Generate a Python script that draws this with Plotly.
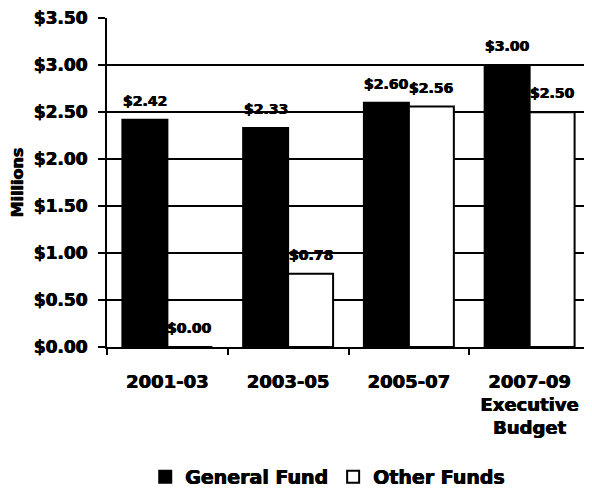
import plotly.graph_objects as go

categories = ["2001-03", "2003-05", "2005-07", "2007-09<br>Executive<br>Budget"]
general_fund = [2.42, 2.33, 2.60, 3.00]
other_funds = [0.00, 0.78, 2.56, 2.50]
y_ticks = [0, 0.5, 1.0, 1.5, 2.0, 2.5, 3.0, 3.5]
y_tick_labels = ["$0.00", "$0.50", "$1.00", "$1.50", "$2.00", "$2.50", "$3.00", "$3.50"]

FONT = "DejaVu Sans"
HEAVY = "0.4px 0 0 black, -0.4px 0 0 black"
BAR_GAP = 0.255
CAT_PX = 483 / len(categories)
OFFSET = CAT_PX * (1 - BAR_GAP) / 4

fig = go.Figure()
fig.add_trace(go.Bar(
    name="General Fund", x=categories, y=general_fund,
    marker=dict(color="black", line=dict(color="black", width=2)),
))
fig.add_trace(go.Bar(
    name="Other Funds", x=categories, y=other_funds,
    marker=dict(color="white", line=dict(color="black", width=2)),
))

annotations = []
for series, shift in ((general_fund, -OFFSET), (other_funds, OFFSET)):
    for c, v in zip(categories, series):
        annotations.append(dict(
            x=c, y=v, xref="x", yref="y", text=f"${v:.2f}", showarrow=False,
            xshift=shift, yshift=19, yanchor="middle",
            font=dict(family=FONT, size=14, color="black", weight="bold", shadow=HEAVY),
        ))

# page body has an 8px default margin: figure is sized/margined to compensate
fig.update_layout(
    width=584, height=485,
    margin=dict(l=99, r=2, t=10, b=146, autoexpand=False),
    paper_bgcolor="white", plot_bgcolor="white",
    barmode="group", bargap=BAR_GAP, bargroupgap=0,
    showlegend=True,
    legend=dict(
        orientation="h", x=0.457, xanchor="center", y=-0.395, yanchor="middle",
        font=dict(family=FONT, size=19, color="black", weight="bold", shadow=HEAVY),
        itemwidth=30, tracegroupgap=0, traceorder="normal",
    ),
    annotations=annotations,
    xaxis=dict(
        type="category", tickson="boundaries", ticks="outside", ticklen=6,
        tickwidth=2, tickcolor="black", showline=True, linecolor="black", linewidth=2,
        showgrid=False, automargin=False, ticklabelstandoff=17,
        tickfont=dict(family=FONT, size=18, color="black", weight="bold", shadow=HEAVY),
    ),
    yaxis=dict(
        range=[0, 3.502], tickvals=y_ticks, ticktext=y_tick_labels,
        ticks="outside", ticklen=7, tickwidth=2, tickcolor="black",
        showline=True, linecolor="black", linewidth=2,
        showgrid=True, gridcolor="black", gridwidth=2, zeroline=False,
        ticklabelstandoff=7, automargin=False, ticklabeloverflow="allow",
        tickfont=dict(family=FONT, size=17, color="black", weight="bold", shadow=HEAVY),
        title=dict(text="Millions", standoff=16,
                   font=dict(family=FONT, size=16, color="black", weight="bold", shadow=HEAVY)),
    ),
)

fig.write_html("out.html")
